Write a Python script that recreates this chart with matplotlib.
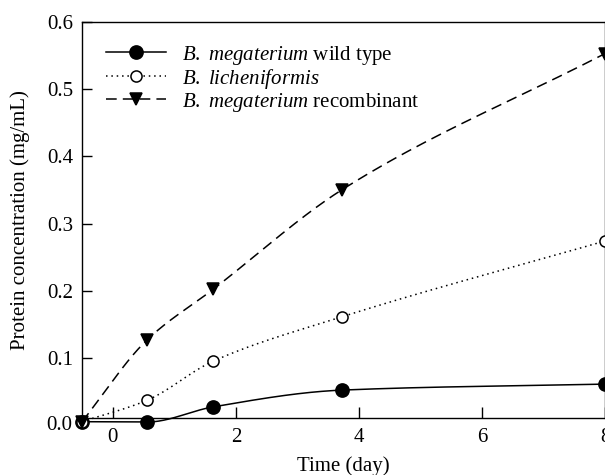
import matplotlib

matplotlib.use("Agg")
import matplotlib.pyplot as plt
import numpy as np

plt.rcParams["font.family"] = ["Liberation Serif", "DejaVu Serif"]
plt.rcParams["mathtext.fontset"] = "custom"
plt.rcParams["mathtext.rm"] = "Liberation Serif"
plt.rcParams["mathtext.it"] = "Liberation Serif:italic"

# sampling times (day)
time_days = [-0.5, 0.56, 1.63, 3.72, 8.0]

# protein concentration (mg/mL)
wild_type = [0.005, 0.0045, 0.027, 0.052, 0.061]
licheniformis = [0.005, 0.037, 0.095, 0.161, 0.274]
recombinant = [0.005, 0.127, 0.202, 0.350, 0.553]

labels = [
    r"$\mathit{B.\ megaterium}$ wild type",
    r"$\mathit{B.\ licheniformis}$",
    r"$\mathit{B.\ megaterium}$ recombinant",
]
x_ticks = [0, 2, 4, 6, 8]
y_ticks = [0.1, 0.2, 0.3, 0.4, 0.5, 0.6]

FS = 15


def smooth_line(x, y, per_seg=80):
    # shape-preserving (PCHIP-like) curve through the measured points
    x = np.asarray(x, float)
    y = np.asarray(y, float)
    n = len(x)
    h = np.diff(x)
    d = np.diff(y) / h
    m = np.zeros(n)
    for i in range(1, n - 1):
        if d[i - 1] * d[i] > 0:
            w1 = 2 * h[i] + h[i - 1]
            w2 = h[i] + 2 * h[i - 1]
            m[i] = (w1 + w2) / (w1 / d[i - 1] + w2 / d[i])
    m[0] = d[0]
    m[-1] = d[-1]
    xs_all, ys_all = [], []
    for i in range(n - 1):
        t = np.linspace(0, 1, per_seg)
        h00 = 2 * t**3 - 3 * t**2 + 1
        h10 = t**3 - 2 * t**2 + t
        h01 = -2 * t**3 + 3 * t**2
        h11 = t**3 - t**2
        xs_all.append(x[i] + t * h[i])
        ys_all.append(h00 * y[i] + h10 * h[i] * m[i] + h01 * y[i + 1] + h11 * h[i] * m[i + 1])
    return np.concatenate(xs_all), np.concatenate(ys_all)


fig = plt.figure(figsize=(6.05, 4.75), dpi=100)
ax = fig.add_axes([82 / 605, 57 / 475, 523 / 605, 396 / 475])

series = [
    (wild_type, "-", dict(marker="o", mfc="black", ms=9.5)),
    (licheniformis, (0, (1, 2.5)), dict(marker="o", mfc="white", ms=8)),
    (recombinant, (0, (7, 4)), dict(marker="v", mfc="black", ms=8.5)),
]

handles = []
for values, ls, mk in series:
    xs, ys = smooth_line(time_days, values)
    ax.plot(xs, ys, color="black", ls=ls, lw=1.1, clip_on=False)
    ax.plot(time_days, values, ls="none", color="black", mec="black",
            mew=1.1, clip_on=False, zorder=3, **mk)
    (h,) = ax.plot([], [], color="black", ls=ls, lw=1.1, mec="black",
                   mew=1.1, **mk)
    handles.append(h)

ax.set_xlim(-0.5, 8)
ax.set_ylim(0.0105, 0.6)
ax.set_xticks(x_ticks)
ax.set_yticks(y_ticks)
ax.set_yticklabels([f"{v:.1f}" for v in y_ticks])
ax.text(-0.019, 0.0, "0.0", transform=ax.get_yaxis_transform(),
        ha="right", va="center", fontsize=FS)
ax.tick_params(direction="in", labelsize=FS, width=1.0)
ax.tick_params(axis="x", length=8, pad=7)
ax.tick_params(axis="y", length=7, pad=6.5)
for sp in ax.spines.values():
    sp.set_linewidth(1.0)

ax.set_xlabel("Time (day)", fontsize=FS, labelpad=7)
ax.set_ylabel("Protein concentration (mg/mL)", fontsize=FS, labelpad=12)

ax.legend(handles, labels, loc="upper left", bbox_to_anchor=(0.046, 0.945),
          frameon=False, fontsize=FS, handlelength=2.9, handletextpad=0.75,
          labelspacing=0.0, borderpad=0, borderaxespad=0)

fig.savefig("out.png", dpi=100)
